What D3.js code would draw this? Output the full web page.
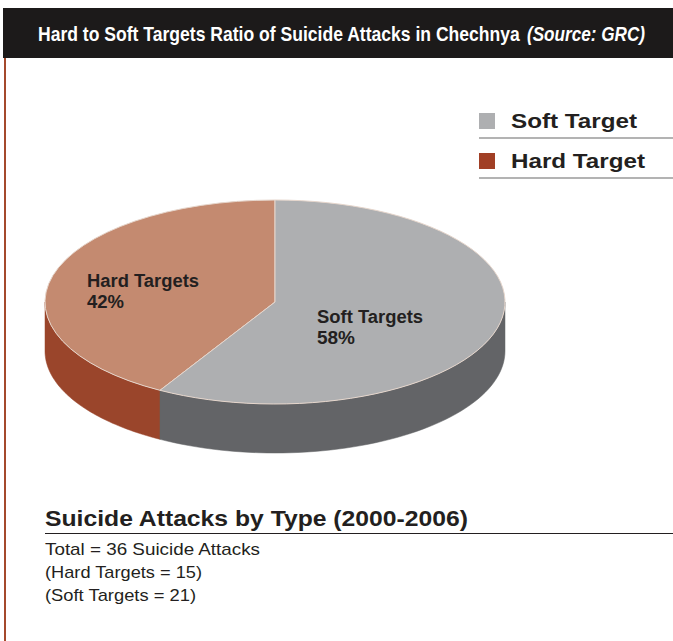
<!DOCTYPE html>
<html><head><meta charset="utf-8">
<script src="https://cdn.jsdelivr.net/npm/d3@7"></script>
<style>body{margin:0;background:#fff}svg{display:block}</style>
</head><body>
<script>
const categories = ["Hard Targets", "Soft Targets"];
const values = [15, 21];
const percentLabels = ["42%", "58%"];
const legendLabels = ["Soft Target", "Hard Target"];
const titleText = "Hard to Soft Targets Ratio of Suicide Attacks in Chechnya";
const sourceText = "(Source: GRC)";
const subTitle = "Suicide Attacks by Type (2000-2006)";
const notes = ["Total = 36 Suicide Attacks", "(Hard Targets = 15)", "(Soft Targets = 21)"];

const W = 673, H = 641;
const FONT = "'Liberation Sans',Arial,Helvetica,sans-serif";
const svg = d3.select("body").append("svg").attr("width", W).attr("height", H);

const topColor = d3.scaleOrdinal().domain(categories).range(["#c48a70", "#aeafb1"]);
const sideColor = d3.scaleOrdinal().domain(categories).range(["#9a452b", "#636467"]);
const legendColor = d3.scaleOrdinal().domain(legendLabels).range(["#aeafb1", "#a13f25"]);

function fit(sel, len) { return sel.attr("textLength", len).attr("lengthAdjust", "spacingAndGlyphs"); }

// text squeezed horizontally to a given width via transform
function squeezed(x, y, len, txt, attrs) {
  const g = svg.append("g");
  const t = g.append("text").attr("x", 0).attr("y", 0).text(txt);
  Object.entries(attrs).forEach(([k, v]) => t.attr(k, v));
  const nat = t.node().getComputedTextLength();
  g.attr("transform", `translate(${x},${y}) scale(${len / nat},1)`);
  return t;
}

// header
svg.append("rect").attr("x", 3).attr("y", 8).attr("width", W - 3).attr("height", 50).attr("fill", "#1c1a1a");
svg.append("rect").attr("x", 4).attr("y", 58).attr("width", 2).attr("height", H - 58).attr("fill", "#a4492c");
squeezed(38, 41, 482, titleText, { fill: "#fff", "font-family": FONT, "font-size": 19.5, "font-weight": "bold" });
squeezed(527, 41, 118, sourceText, { fill: "#fff", "font-family": FONT, "font-size": 19.5, "font-weight": "bold", "font-style": "italic" });

// pie
const total = d3.sum(values);
const cx = 275, cy = 302, rx = 230, ry = 102, depth = 49;
const start = -2 * Math.PI * values[0] / total;
const pie = d3.pie().sort(null).startAngle(start).endAngle(start + 2 * Math.PI);
const arcs = pie(values).map((d, i) => Object.assign(d, { cat: categories[i] }));

const px = a => cx + rx * Math.sin(a);
const py = a => cy - ry * Math.cos(a);

// sides
const sideG = svg.append("g");
arcs.forEach(d => {
  for (let k = -1; k <= 1; k++) {
    const lo = Math.PI / 2 + 2 * Math.PI * k, hi = 3 * Math.PI / 2 + 2 * Math.PI * k;
    const a0 = Math.max(d.startAngle, lo), a1 = Math.min(d.endAngle, hi);
    if (a1 <= a0) continue;
    const n = 60;
    const angs = d3.range(n + 1).map(j => a0 + (a1 - a0) * j / n);
    const pts = angs.map(a => [px(a), py(a)]).concat(angs.slice().reverse().map(a => [px(a), py(a) + depth]));
    sideG.append("path").attr("d", d3.line()(pts) + "Z").attr("fill", sideColor(d.cat))
      .attr("stroke", sideColor(d.cat)).attr("stroke-width", 0.5);
  }
});

// top
const arcGen = d3.arc().innerRadius(0).outerRadius(rx);
const topG = svg.append("g").attr("transform", `translate(${cx},${cy}) scale(1,${ry / rx})`);
topG.selectAll("path").data(arcs).join("path")
  .attr("d", arcGen).attr("fill", d => topColor(d.cat))
  .attr("stroke", "#e6d6cc").attr("stroke-width", 1).attr("vector-effect", "non-scaling-stroke");

// labels
const labelPos = [[87, 287], [317, 323]];
const labelLen = [[112, 37], [106, 38]];
arcs.forEach((d, i) => {
  fit(svg.append("text").attr("x", labelPos[i][0]).attr("y", labelPos[i][1]).text(d.cat)
    .attr("font-family", FONT).attr("font-weight", "bold").attr("font-size", 17.5).attr("fill", "#231f20"), labelLen[i][0]);
  fit(svg.append("text").attr("x", labelPos[i][0]).attr("y", labelPos[i][1] + 21).text(percentLabels[i])
    .attr("font-family", FONT).attr("font-weight", "bold").attr("font-size", 17.5).attr("fill", "#231f20"), labelLen[i][1]);
});

// legend
const lg = svg.append("g");
const legLen = [126, 134];
legendLabels.forEach((l, i) => {
  const y0 = 113 + i * 40;
  lg.append("rect").attr("x", 479).attr("y", y0).attr("width", 16).attr("height", 16).attr("fill", legendColor(l));
  fit(lg.append("text").attr("x", 511).attr("y", y0 + 15).text(l)
    .attr("font-family", FONT).attr("font-weight", "bold")
    .attr("font-size", 21).attr("fill", "#231f20"), legLen[i]);
  lg.append("line").attr("x1", 479).attr("x2", W).attr("y1", y0 + 25).attr("y2", y0 + 25)
    .attr("stroke", "#9a9a9a").attr("stroke-width", 1.5);
});

// bottom text
fit(svg.append("text").attr("x", 45).attr("y", 526).text(subTitle)
  .attr("font-family", FONT).attr("font-weight", "bold")
  .attr("font-size", 22).attr("fill", "#231f20"), 423);
svg.append("line").attr("x1", 45).attr("x2", W).attr("y1", 533.5).attr("y2", 533.5).attr("stroke", "#231f20").attr("stroke-width", 1);
const noteLen = [215, 157, 151];
notes.forEach((n, i) => {
  fit(svg.append("text").attr("x", 45).attr("y", 555 + i * 23).text(n)
    .attr("font-family", FONT)
    .attr("font-size", 17).attr("fill", "#231f20"), noteLen[i]);
});
</script>
</body></html>
